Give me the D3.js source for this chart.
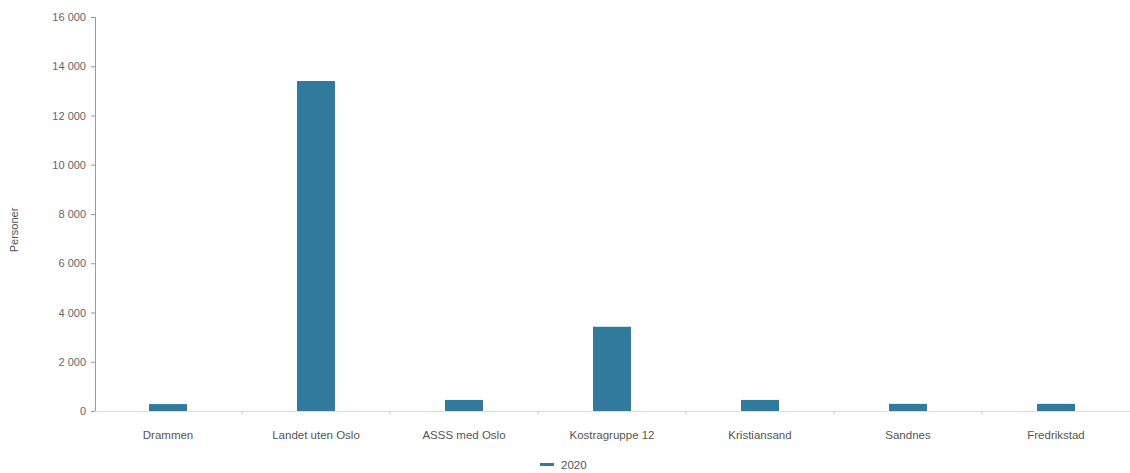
<!DOCTYPE html>
<html><head><meta charset="utf-8">
<script src="https://cdn.jsdelivr.net/npm/d3@7/dist/d3.min.js"></script>
<style>
body{margin:0;background:#fff;}
text{font-family:Arial,"Liberation Sans",sans-serif;}
</style></head>
<body><svg id="c" width="1130" height="473"></svg>
<script>
const categories = ["Drammen","Landet uten Oslo","ASSS med Oslo","Kostragruppe 12","Kristiansand","Sandnes","Fredrikstad"];
const values2020 = [280, 13400, 450, 3420, 450, 290, 290];
const yTicks = [0,2000,4000,6000,8000,10000,12000,14000,16000];
const seriesName = "2020";
const yLabel = "Personer";

const svg = d3.select("#c");
const x = d3.scaleBand().domain(categories).range([94,1130]).paddingInner(0).paddingOuter(0);
const y = d3.scaleLinear().domain([0,16000]).range([411,17]);
const fmt = d => d3.format(",")(d).replace(/,/g," ");
const col = "#317a9b";

// y axis
const ya = svg.append("g").attr("transform","translate(95,0)")
  .call(d3.axisLeft(y).tickValues(yTicks).tickFormat(fmt).tickSize(4).tickPadding(5));
ya.select(".domain").attr("stroke","#9a9a9a");
ya.selectAll(".tick line").attr("stroke","#9a9a9a");
ya.selectAll("text").attr("fill","#666").attr("font-size","11px");

// x axis
const xa = svg.append("g").attr("transform","translate(0,411)")
  .call(d3.axisBottom(x).tickSize(0).tickPadding(20));
xa.select(".domain").attr("stroke","#ddd");
xa.selectAll("text").attr("fill","#555").attr("font-size","11.5px");
svg.append("g").selectAll("line").data(categories.slice(1)).join("line")
  .attr("x1",d=>x(d)).attr("x2",d=>x(d)).attr("y1",411).attr("y2",415).attr("stroke","#ccc");

// bars
const bw = 38;
svg.append("g").selectAll("rect").data(categories).join("rect")
  .attr("x",(d)=>x(d)+x.bandwidth()/2-bw/2)
  .attr("width",bw)
  .attr("y",(d,i)=>y(values2020[i]))
  .attr("height",(d,i)=>y(0)-y(values2020[i]))
  .attr("fill",col);

// y label
svg.append("text").attr("transform","translate(18,230) rotate(-90)")
  .attr("text-anchor","middle").attr("fill","#555").attr("font-size","11px").text(yLabel);

// legend
svg.append("rect").attr("x",540).attr("y",463).attr("width",14).attr("height",3).attr("fill",col);
svg.append("text").attr("x",561).attr("y",469).attr("fill","#555").attr("font-size","11.5px").text(seriesName);
</script></body></html>
